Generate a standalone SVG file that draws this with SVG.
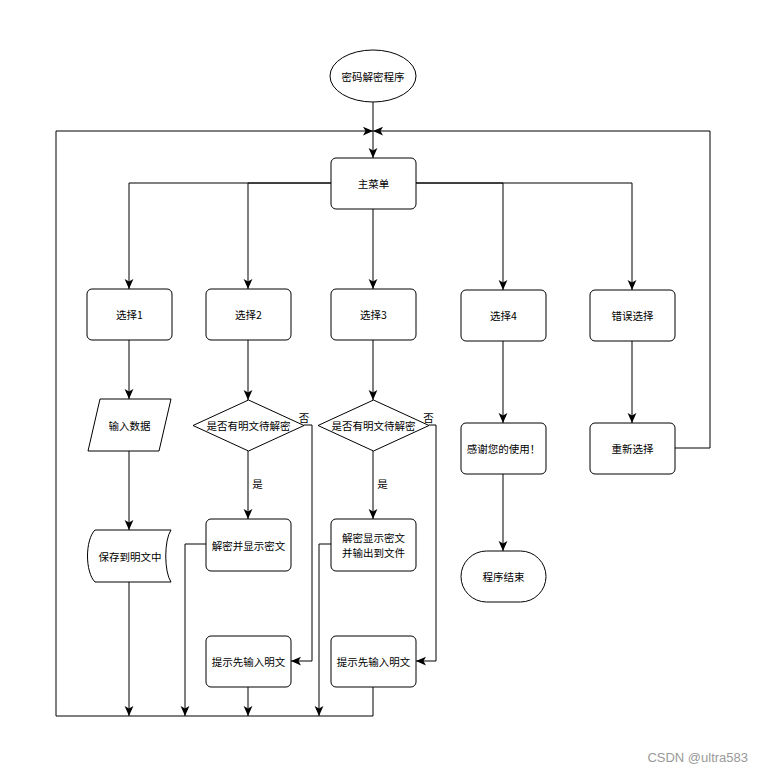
<svg xmlns="http://www.w3.org/2000/svg" width="768" height="775" viewBox="0 0 768 775">
<style>
.n{fill:#fff;stroke:#000;stroke-width:1}
.t{font-family:"Noto Sans CJK SC","Liberation Sans",sans-serif;font-size:10.5px;fill:#000;text-anchor:middle;dominant-baseline:central}
.c{fill:none;stroke:#000;stroke-width:1}
.wm{font-family:"Liberation Sans",Arial,sans-serif;font-size:13px;fill:#999;text-anchor:end;dominant-baseline:central}
</style>
<defs>
<marker id="a" markerUnits="userSpaceOnUse" markerWidth="10" markerHeight="10" viewBox="0 0 8 8" refX="8" refY="4" orient="auto">
<path d="M0,0.5 L8,4 L0,7.5 L2,4 z" fill="#000"/>
</marker>
</defs>
<rect width="768" height="775" fill="#fff"/>
<g id="connectors">
<path class="c" d="M373,102 V158" marker-end="url(#a)"/>
<path class="c" d="M373,687 V716 H56 V131 H373" marker-end="url(#a)"/>
<path class="c" d="M675,448 H710 V131 H373" marker-end="url(#a)"/>
<path class="c" d="M331,183 H129 V289" marker-end="url(#a)"/>
<path class="c" d="M331,183 H248 V289" marker-end="url(#a)"/>
<path class="c" d="M373,209 V289" marker-end="url(#a)"/>
<path class="c" d="M416,183 H503 V290" marker-end="url(#a)"/>
<path class="c" d="M416,183 H632 V290" marker-end="url(#a)"/>
<path class="c" d="M129,340 V399" marker-end="url(#a)"/>
<path class="c" d="M129,451 V530" marker-end="url(#a)"/>
<path class="c" d="M129,582 V716" marker-end="url(#a)"/>
<path class="c" d="M248,340 V400" marker-end="url(#a)"/>
<path class="c" d="M248,451 V519" marker-end="url(#a)"/>
<path class="c" d="M304,425 H312 V661 H291" marker-end="url(#a)"/>
<path class="c" d="M206,544 H185 V716" marker-end="url(#a)"/>
<path class="c" d="M248,687 V716" marker-end="url(#a)"/>
<path class="c" d="M373,340 V400" marker-end="url(#a)"/>
<path class="c" d="M373,451 V519" marker-end="url(#a)"/>
<path class="c" d="M429,425 H436 V661 H416" marker-end="url(#a)"/>
<path class="c" d="M331,544 H319 V716" marker-end="url(#a)"/>
<path class="c" d="M503,341 V423" marker-end="url(#a)"/>
<path class="c" d="M632,341 V423" marker-end="url(#a)"/>
<path class="c" d="M503,474 V551" marker-end="url(#a)"/>
<text class="t" x="257.5" y="483">是</text>
<text class="t" x="382.5" y="483">是</text>
<text class="t" x="304" y="417">否</text>
<text class="t" x="428.5" y="417">否</text>
</g>
<g id="start"><ellipse class="n" cx="373" cy="76" rx="43" ry="26"/><text class="t" x="373" y="76">密码解密程序</text></g>
<g id="menu"><rect class="n" x="331" y="158" width="85" height="51" rx="5"/><text class="t" x="373.5" y="183.5">主菜单</text></g>
<g id="sel1"><rect class="n" x="87" y="289" width="85" height="51" rx="5"/><text class="t" x="129.5" y="314.5">选择1</text></g>
<g id="sel2"><rect class="n" x="206" y="289" width="85" height="51" rx="5"/><text class="t" x="248.5" y="314.5">选择2</text></g>
<g id="sel3"><rect class="n" x="331" y="289" width="85" height="51" rx="5"/><text class="t" x="373.5" y="314.5">选择3</text></g>
<g id="sel4"><rect class="n" x="461" y="290" width="85" height="51" rx="5"/><text class="t" x="503.5" y="315.5">选择4</text></g>
<g id="selerr"><rect class="n" x="590" y="290" width="85" height="51" rx="5"/><text class="t" x="632.5" y="315.5">错误选择</text></g>
<g id="input"><path class="n" d="M100,399 H171 L159,451 H88 Z" stroke-linejoin="round"/><text class="t" x="129.5" y="425">输入数据</text></g>
<g id="save"><path class="n" d="M95,530 H171 C164,540 164,572 171,582 H95 C85,572 85,540 95,530 Z"/><text class="t" x="130" y="556">保存到明文中</text></g>
<g id="dec2"><path class="n" d="M248.5,400 L304,425.5 L248.5,451 L193,425.5 Z"/><text class="t" x="248.5" y="425.5">是否有明文待解密</text></g>
<g id="dec3"><path class="n" d="M373.5,400 L429,425.5 L373.5,451 L318,425.5 Z"/><text class="t" x="373.5" y="425.5">是否有明文待解密</text></g>
<g id="show2"><rect class="n" x="206" y="519" width="85" height="52" rx="5"/><text class="t" x="248.5" y="545">解密并显示密文</text></g>
<g id="show3"><rect class="n" x="331" y="519" width="85" height="52" rx="5"/><text class="t" x="373.5" y="537">解密显示密文</text><text class="t" x="373.5" y="552.5">并输出到文件</text></g>
<g id="hint2"><rect class="n" x="206" y="636" width="85" height="51" rx="5"/><text class="t" x="248.5" y="661.5">提示先输入明文</text></g>
<g id="hint3"><rect class="n" x="331" y="636" width="85" height="51" rx="5"/><text class="t" x="373.5" y="661.5">提示先输入明文</text></g>
<g id="thanks"><rect class="n" x="461" y="423" width="85" height="51" rx="5"/><text class="t" x="503.5" y="448.5">感谢您的使用！</text></g>
<g id="retry"><rect class="n" x="590" y="423" width="85" height="51" rx="5"/><text class="t" x="632.5" y="448.5">重新选择</text></g>
<g id="end"><rect class="n" x="461" y="551" width="85" height="51" rx="25.5"/><text class="t" x="503.5" y="576.5">程序结束</text></g>
<text class="wm" x="748" y="757">CSDN @ultra583</text>
</svg>
